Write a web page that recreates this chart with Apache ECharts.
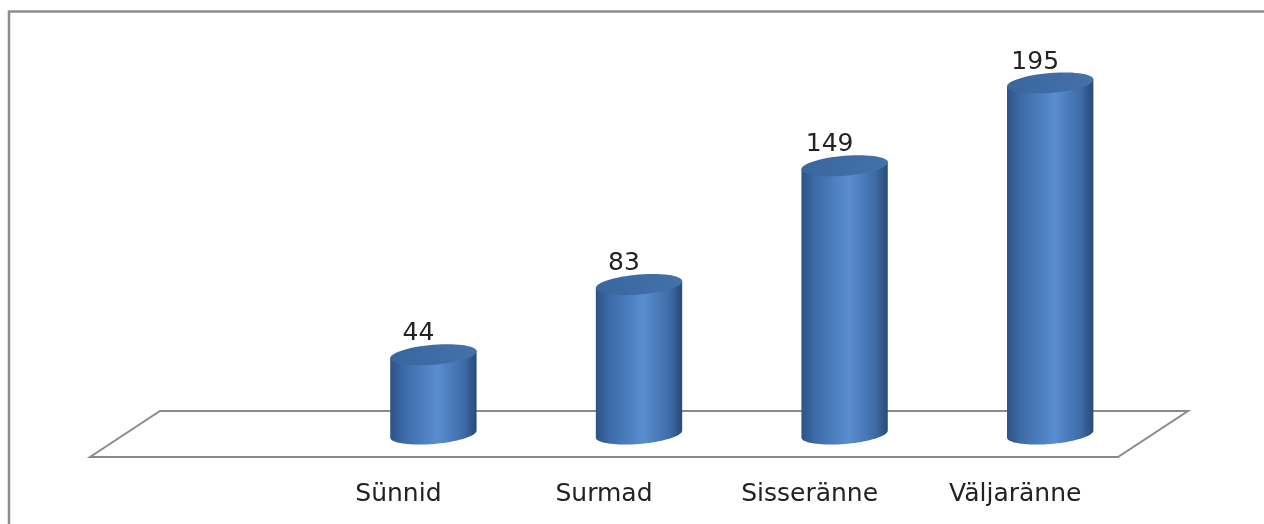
<!doctype html>
<html>
<head>
<meta charset="UTF-8">
<title>Rahvastiku muutused</title>
<script src="https://cdn.jsdelivr.net/npm/echarts@6/dist/echarts.min.js"></script>
<style>
  html, body { margin: 0; padding: 0; background: #fff; }
  #main { width: 1264px; height: 524px; }
</style>
</head>
<body>
<div id="main"></div>
<script>
// andmed (first slot is empty in the original chart)
var categories = ['', 'Sünnid', 'Surmad', 'Sisseränne', 'Väljaränne'];
var values = [null, 44, 83, 149, 195];

var chart = echarts.init(document.getElementById('main'));

// depth offset of the bars relative to the front edge of the floor
var DX = 35, DY = -23;
var K = 0.08; // tilt of the ellipses
var RY = 10;

function ellipsePts(cx, cy, rx, from, to, n) {
  var pts = [];
  for (var i = 0; i <= n; i++) {
    var t = from + (to - from) * i / n;
    var x = cx + rx * Math.cos(t);
    var y = cy + RY * Math.sin(t) - K * (x - cx);
    pts.push([x, y]);
  }
  return pts;
}

function renderItem(params, api) {
  var idx = api.value(0);
  var v = api.value(1);
  var base = api.coord([idx, 0]);
  var top = api.coord([idx, v]);
  var w = api.size([1, 0])[0] * 0.42;
  var rx = w / 2;
  var cx = base[0] + DX;
  var yb = base[1] + DY;
  var yt = top[1] + DY;

  var body = [[cx - rx, yt + K * rx], [cx + rx, yt - K * rx]]
    .concat(ellipsePts(cx, yb, rx, 0, Math.PI, 40));

  var bodyFill = new echarts.graphic.LinearGradient(0, 0, 1, 0, [
    { offset: 0, color: '#2c5385' },
    { offset: 0.15, color: '#3b6aa6' },
    { offset: 0.55, color: '#5a8dd0' },
    { offset: 0.85, color: '#3f6ca8' },
    { offset: 1, color: '#284a78' }
  ]);
  var topFill = new echarts.graphic.LinearGradient(0, 0, 1, 0, [
    { offset: 0, color: '#3a669f' },
    { offset: 1, color: '#4571ab' }
  ]);

  return {
    type: 'group',
    children: [
      { type: 'polygon', shape: { points: body }, style: { fill: bodyFill } },
      { type: 'polygon', shape: { points: ellipsePts(cx, yt, rx, 0, Math.PI * 2, 60) },
        style: { fill: topFill } },
      { type: 'text', x: cx - 15, y: yt - 21,
        style: { text: String(v), fill: '#222', font: '25px "DejaVu Sans"',
                 align: 'center', verticalAlign: 'middle' } }
    ]
  };
}

var seriesData = [];
values.forEach(function (v, i) {
  if (v !== null) seriesData.push([i, v]);
});

var option = {
  animation: false,
  grid: { left: 90, right: 146, top: 25, bottom: 67 },
  xAxis: {
    type: 'category',
    data: categories,
    axisLine: { show: false },
    axisTick: { show: false },
    axisLabel: {
      color: '#222',
      fontFamily: 'DejaVu Sans',
      fontSize: 25,
      margin: 25
    }
  },
  yAxis: {
    type: 'value',
    min: 0,
    max: 240,
    show: false
  },
  graphic: [
    {
      type: 'rect', z: 0,
      shape: { x: 9, y: 11.5, width: 1400, height: 700 },
      style: { fill: null, stroke: '#8c8c8c', lineWidth: 2.5 }
    },
    {
      type: 'polygon', z: 0,
      shape: { points: [[90, 457], [160, 411], [1188, 411], [1118, 457]] },
      style: { fill: '#fff', stroke: '#8a8a8a', lineWidth: 2 }
    }
  ],
  series: [{
    type: 'custom',
    z: 5,
    renderItem: renderItem,
    encode: { x: 0, y: 1 },
    data: seriesData
  }]
};

chart.setOption(option);
</script>
</body>
</html>
